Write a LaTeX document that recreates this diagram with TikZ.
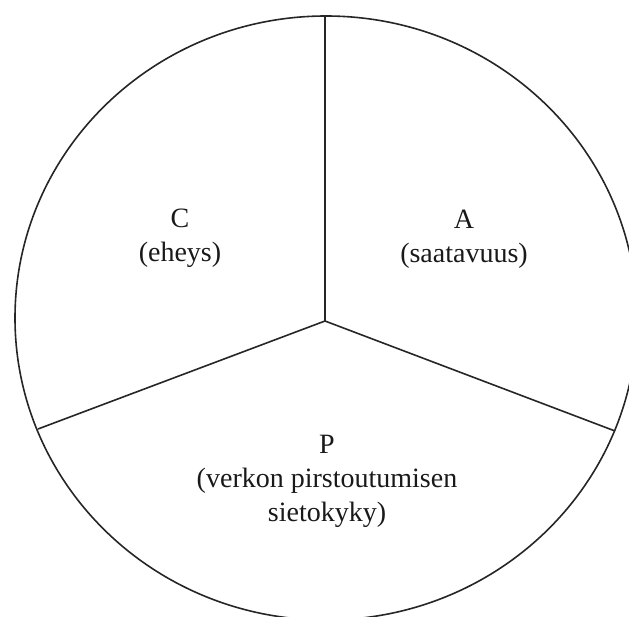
\documentclass[tikz,border=0pt]{standalone}
\usepackage{fontspec}
\setmainfont{Liberation Serif}
\begin{document}
\begin{tikzpicture}[x=1pt,y=-1pt,
  edge/.style={draw=black!85,line width=1.6pt},
  lbl/.style={align=center,inner sep=0pt,text=black!90,font=\fontsize{28}{34}\selectfont}]
\useasboundingbox (0,0) rectangle (629,617);
\clip (0,0) rectangle (629,617);
\draw[edge] (326,318) ellipse [x radius=311, y radius=302];
\coordinate (O) at (325,321);
\coordinate (T) at (325,16);
\coordinate (L) at (38,429);
\coordinate (R) at (615,431);
\draw[edge] (T) -- (O);
\draw[edge] (L) -- (O) -- (R);
\node[lbl] (C) at (180,238) {C\\(eheys)};
\node[lbl] (A) at (464,239) {A\\(saatavuus)};
\node[lbl] (P) at (327,481) {P\\(verkon pirstoutumisen\\sietokyky)};
\end{tikzpicture}
\end{document}
